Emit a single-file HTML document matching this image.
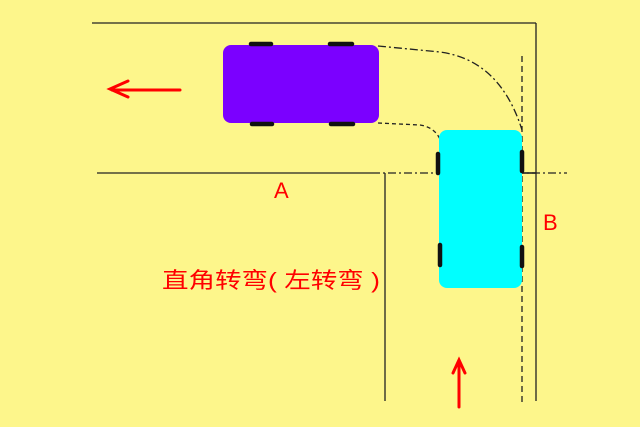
<!DOCTYPE html>
<html><head><meta charset="utf-8"><style>
html,body{margin:0;padding:0;background:#fdf68b;}
svg{display:block}
</style></head><body>
<svg width="640" height="427" viewBox="0 0 640 427" xmlns="http://www.w3.org/2000/svg">
<rect width="640" height="427" fill="#fdf68b"/>
<g stroke="#222" stroke-width="1.3" fill="none">
<line x1="92" y1="23" x2="536" y2="23"/>
<line x1="536" y1="23" x2="536" y2="401"/>
<line x1="97" y1="173" x2="372" y2="173"/>
<line x1="372" y1="173" x2="567" y2="173" stroke-dasharray="8,3,2,3"/>
<line x1="522" y1="173" x2="536" y2="173" stroke-width="1.6"/>
<line x1="385" y1="173" x2="385" y2="401"/>
<line x1="522" y1="56" x2="522" y2="405" stroke-dasharray="6,4"/>
<path d="M378 46 L440 52 Q500 60 522 130" stroke-dasharray="8,3,2,3"/>
<path d="M378 123 L420 125 Q440 128 443 150" stroke-dasharray="4,3"/>
</g>
<rect x="223" y="45" width="156" height="78" rx="8" fill="#7b00ff"/>
<g stroke="#111" stroke-width="4.5" stroke-linecap="round">
<line x1="251" y1="44" x2="271" y2="44"/><line x1="330" y1="44" x2="352" y2="44"/>
<line x1="252" y1="124" x2="272" y2="124"/><line x1="331" y1="124" x2="353" y2="124"/>
</g>
<rect x="439" y="130" width="83" height="158" rx="8" fill="#00ffff"/>
<g stroke="#111" stroke-width="4.5" stroke-linecap="round">
<line x1="438" y1="154" x2="438" y2="173"/><line x1="440" y1="245" x2="440" y2="265"/>
<line x1="522" y1="152" x2="522" y2="171"/><line x1="522" y1="247" x2="522" y2="266"/>
</g>
<g stroke="#ff0000" stroke-width="3" fill="none" stroke-linecap="round">
<line x1="112" y1="90" x2="180" y2="90"/>
<path d="M128 81 L110 89 L128 97"/>
<line x1="459" y1="362" x2="459" y2="407"/>
<path d="M453 373 L459 360 L465 373"/>
</g>
<g fill="#ff0000" font-family="Liberation Sans, sans-serif" font-size="22">
<text x="274" y="198">A</text>
<text x="543" y="230">B</text>
<text x="162" y="288" font-family="Liberation Sans, Noto Sans CJK SC, sans-serif" font-size="22" textLength="218" lengthAdjust="spacingAndGlyphs">直角转弯( 左转弯 )</text>
</g>
</svg>
</body></html>
